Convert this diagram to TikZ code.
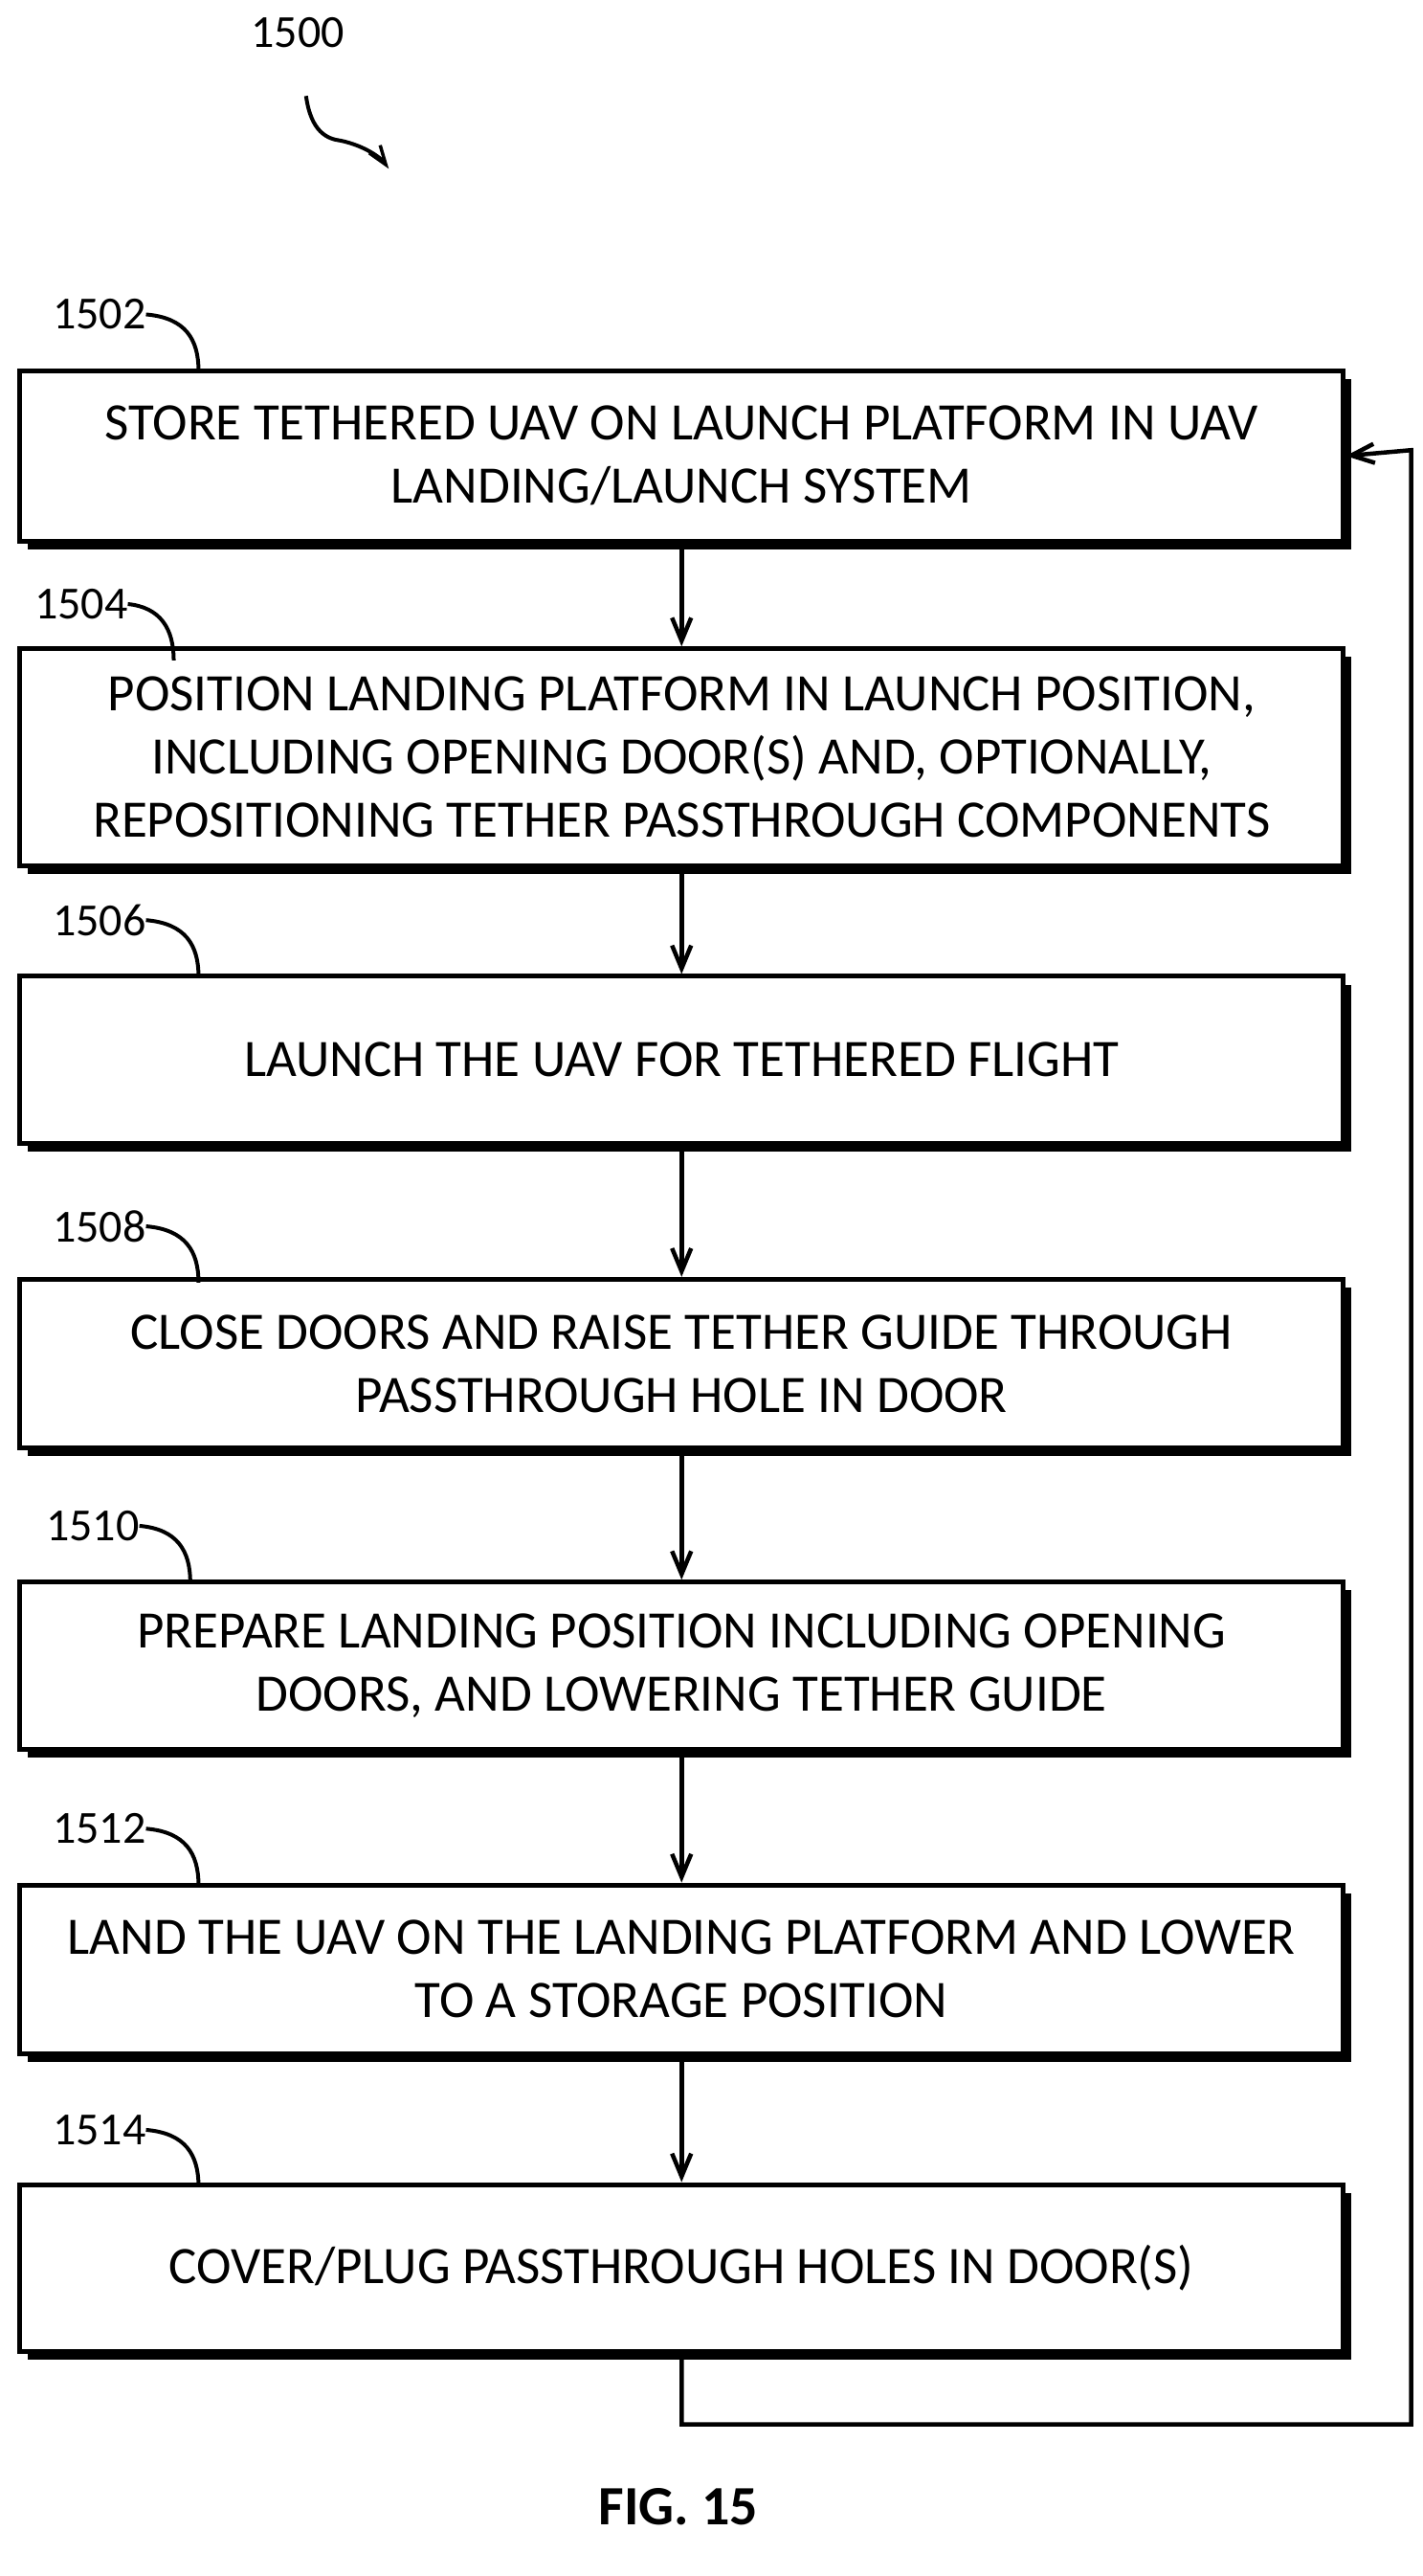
\documentclass[tikz,border=0pt]{standalone}
\usepackage{fontspec}
\setmainfont{Carlito}
\usetikzlibrary{arrows.meta}
\begin{document}
\begin{tikzpicture}[x=1.729pt,y=-1.729pt,
  box/.style={draw,line width=5pt,fill=white,minimum width=800*1.729pt,align=center,
    font=\fontsize{55}{66}\selectfont,inner sep=0pt},
  txt/.style={align=center,font=\fontsize{55}{66}\selectfont,inner sep=0pt},
  lbl/.style={font=\fontsize{48}{50}\selectfont,inner sep=0pt},
  arr/.style={line width=4.5pt,-{Straight Barb[length=24pt,width=20pt,line width=4.5pt]}},
  lead/.style={line width=4pt}]
\useasboundingbox (0,0) rectangle (860,1556.6);
\newcommand\mybox[3]{%
  \fill (17,#2+5) rectangle (817,#3+5);
  \node[box,minimum height=(#3-#2)*1.729pt] (b#1) at (412,{(#2+#3)/2}) {};}
\mybox{1}{224}{327}
\mybox{2}{392}{523}
\mybox{3}{590}{691}
\mybox{4}{773}{875}
\mybox{5}{956}{1057}
\mybox{6}{1139}{1241}
\mybox{7}{1320}{1421}
\node[txt] (t1) at (b1) {STORE TETHERED UAV ON LAUNCH PLATFORM IN UAV\\LANDING/LAUNCH SYSTEM};
\node[txt] (t2) at (b2) {POSITION LANDING PLATFORM IN LAUNCH POSITION,\\INCLUDING OPENING DOOR(S) AND, OPTIONALLY,\\REPOSITIONING TETHER PASSTHROUGH COMPONENTS};
\node[txt] (t3) at (b3) {LAUNCH THE UAV FOR TETHERED FLIGHT};
\node[txt] (t4) at (b4) {CLOSE DOORS AND RAISE TETHER GUIDE THROUGH\\PASSTHROUGH HOLE IN DOOR};
\node[txt] (t5) at (b5) {PREPARE LANDING POSITION INCLUDING OPENING\\DOORS, AND LOWERING TETHER GUIDE};
\node[txt] (t6) at (b6) {LAND THE UAV ON THE LANDING PLATFORM AND LOWER\\TO A STORAGE POSITION};
\node[txt] (t7) at (b7) {COVER/PLUG PASSTHROUGH HOLES IN DOOR(S)};
\foreach \a/\b in {1/2,2/3,3/4,4/5,5/6,6/7}{\draw[arr] (b\a.south) -- (b\b.north);}
\coordinate (c1) at (412,1465); \coordinate (c2) at (853,1465); \coordinate (c3) at (853,272);
\draw[arr] (b7.south) -- (c1) -- (c2) -- (c3) -- (b1.east);
% labels
\foreach \n/\y/\lx/\ex in {1502/190/60/120,1504/365/49/105,1506/556/60/120,1508/741/60/120,1510/922/56/115,1512/1105/60/120,1514/1287/60/120}{
  \node[lbl] (l\n) at (\lx,\y) {\n};
  \draw[lead] (l\n.east) .. controls ({\ex-8},{\y+2}) and (\ex,{\y+15}) .. (\ex,{\y+34});}
\node[lbl] (l1500) at (180,20) {1500};
\coordinate (t1500) at (235,102);
\draw[lead,-{Straight Barb[length=20pt,width=14pt,line width=3.5pt]}] (185,58) .. controls (188,80) and (198,84) .. (206,85) .. controls (220,88) and (230,95) .. (t1500);
\node[font=\bfseries\fontsize{58}{60}\selectfont] (fig) at (410,1515) {FIG. 15};
\end{tikzpicture}
\end{document}
